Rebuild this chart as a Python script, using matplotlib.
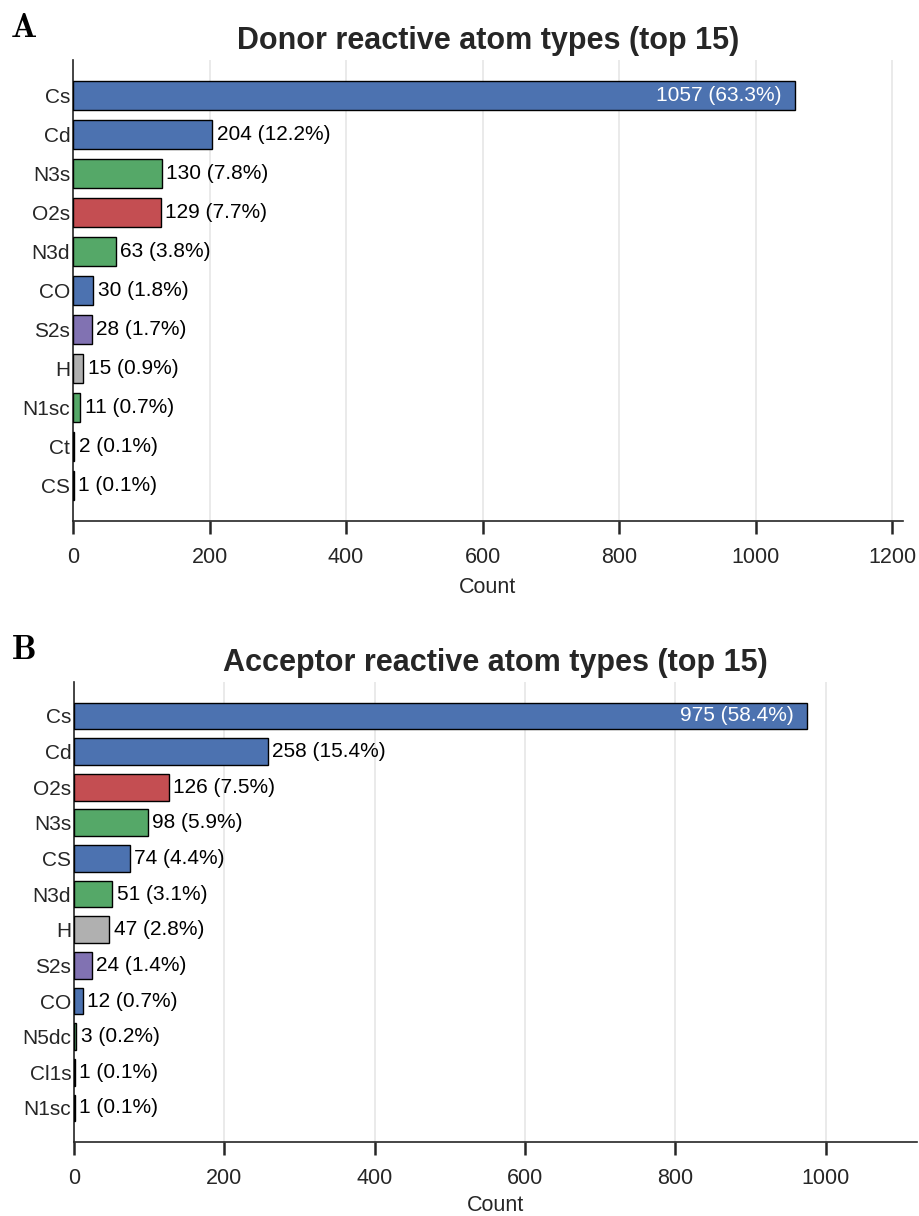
import matplotlib
matplotlib.use("Agg")
from matplotlib import pyplot as plt

plt.rcParams['font.family'] = ['Liberation Sans', 'DejaVu Sans']
plt.rcParams['mathtext.fontset'] = 'cm'

# reactive atom type counts (donor side)
donor_types = ["Cs", "Cd", "N3s", "O2s", "N3d", "CO", "S2s", "H", "N1sc", "Ct", "CS"]
donor_counts = [1057, 204, 130, 129, 63, 30, 28, 15, 11, 2, 1]
donor_pct = [63.3, 12.2, 7.8, 7.7, 3.8, 1.8, 1.7, 0.9, 0.7, 0.1, 0.1]

# reactive atom type counts (acceptor side)
acceptor_types = ["Cs", "Cd", "O2s", "N3s", "CS", "N3d", "H", "S2s", "CO", "N5dc", "Cl1s", "N1sc"]
acceptor_counts = [975, 258, 126, 98, 74, 51, 47, 24, 12, 3, 1, 1]
acceptor_pct = [58.4, 15.4, 7.5, 5.9, 4.4, 3.1, 2.8, 1.4, 0.7, 0.2, 0.1, 0.1]

element_colors = {"C": "#4C72B0", "N": "#55A868", "O": "#C44E52",
                  "S": "#8172B2", "H": "#B0B0B0", "Cl": "#3A3A3A"}
TXT = "#262626"


def color_for(atom):
    if atom.startswith("Cl"):
        return element_colors["Cl"]
    return element_colors[atom[0]]


def draw_panel(ax, types, counts, pct, title, letter, pad, xlabelpad):
    n = len(types)
    ypos = list(range(n))
    ax.barh(ypos, counts, height=0.75, color=[color_for(t) for t in types],
            edgecolor="black", linewidth=1.0, zorder=3)
    top = max(counts)
    ax.set_xlim(0, top * 1.15)
    ax.set_ylim(n - 1 + pad, -pad)
    for y, c, p in zip(ypos, counts, pct):
        label = f"{c} ({p}%)"
        if c == top:
            ax.text(c - top * 0.018, y, label, color="white", fontsize=15,
                    ha="right", va="center", zorder=4)
        else:
            ax.text(c + top * 0.006, y, label, color="black", fontsize=15,
                    ha="left", va="center", zorder=4)
    ax.set_yticks(ypos)
    ax.set_yticklabels(types)
    ax.tick_params(axis="y", length=0, pad=2, labelsize=15, labelcolor=TXT)
    ax.tick_params(axis="x", direction="out", length=9, width=1.8, labelsize=15.5,
                   labelcolor=TXT, color=TXT, pad=9.5)
    ax.grid(axis="x", color="#E6E6E6", linewidth=1.2, zorder=0)
    ax.set_axisbelow(True)
    for s in ["top", "right"]:
        ax.spines[s].set_visible(False)
    for s in ["left", "bottom"]:
        ax.spines[s].set_color(TXT)
        ax.spines[s].set_linewidth(1.2)
    ax.set_xlabel("Count", fontsize=15.5, color=TXT, labelpad=xlabelpad)
    ax.set_title(title, fontsize=22, fontweight="bold", color=TXT, pad=8)
    ax.text(-0.060, 1.070, r"$\mathbf{" + letter + "}$", transform=ax.transAxes,
            fontsize=25, ha="center", va="center", color="black")


fig = plt.figure(figsize=(9.19, 12.16), dpi=100)
ax1 = fig.add_axes([0.0794, 0.5715, 0.9032, 0.3792])
ax2 = fig.add_axes([0.0805, 0.0610, 0.9173, 0.3781])

draw_panel(ax1, donor_types, donor_counts, donor_pct,
           "Donor reactive atom types (top 15)", "A", 0.92, 7)
draw_panel(ax2, acceptor_types, acceptor_counts, acceptor_pct,
           "Acceptor reactive atom types (top 15)", "B", 0.95, 4.5)

fig.savefig("out.png", dpi=100)
